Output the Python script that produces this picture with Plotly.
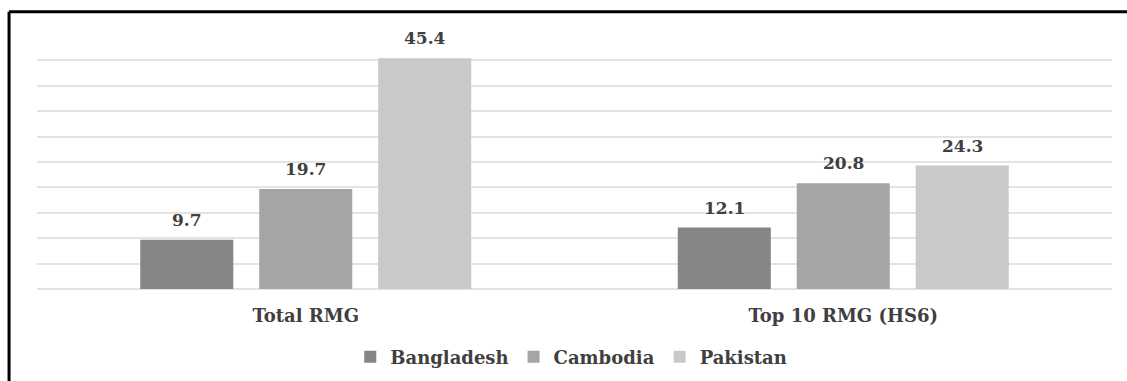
import plotly.graph_objects as go

categories = ["Total RMG", "Top 10 RMG (HS6)"]
bangladesh = [9.7, 12.1]
cambodia = [19.7, 20.8]
pakistan = [45.4, 24.3]

series = [
    ("Bangladesh", bangladesh, "#858585"),
    ("Cambodia", cambodia, "#a5a5a5"),
    ("Pakistan", pakistan, "#c9c9c9"),
]

FONT = "DejaVu Serif"
TEXT_COLOR = "#404040"

fig = go.Figure()
for name, values, color in series:
    fig.add_trace(go.Bar(
        name=name,
        x=categories,
        y=values,
        marker=dict(color=color, line=dict(width=0)),
        offsetgroup=name,
    ))

# value labels above each bar, placed with the same group offsets as the bars
n = len(series)
slot = (1 - 0.336) / n
for i, (name, values, color) in enumerate(series):
    offset = (i - (n - 1) / 2) * slot
    for j, v in enumerate(values):
        fig.add_annotation(
            x=j + offset, y=v, xref="x", yref="y",
            text=f"<b>{v:.1f}</b>", showarrow=False,
            yanchor="bottom", yshift=8,
            font=dict(family=FONT, size=17, color=TEXT_COLOR),
        )

# frame around the chart (left and top edges visible)
fx, fy = -0.026, 1.092
fig.add_shape(type="line", xref="paper", yref="paper", x0=fx, x1=fx, y0=fy, y1=-0.6,
              line=dict(color="#000000", width=3))
fig.add_shape(type="line", xref="paper", yref="paper", x0=fx, x1=1.1, y0=fy, y1=fy,
              line=dict(color="#000000", width=3))

fig.update_layout(
    width=1127,
    height=381,
    margin=dict(l=37, r=15, t=35, b=92, autoexpand=False),
    paper_bgcolor="white",
    plot_bgcolor="white",
    barmode="group",
    bargap=0.336,
    bargroupgap=0.218,
    showlegend=True,
    legend=dict(
        orientation="h",
        x=0.497, xanchor="center",
        y=-0.268, yanchor="middle",
        font=dict(family=FONT, size=18, color=TEXT_COLOR, weight="bold"),
        itemwidth=30,
        traceorder="normal",
    ),
    xaxis=dict(
        type="category",
        automargin=False,
        showgrid=False,
        showline=False,
        ticks="",
        ticklabelstandoff=14,
        tickfont=dict(family=FONT, size=18, color=TEXT_COLOR, weight="bold"),
    ),
    yaxis=dict(
        range=[0, 50],
        dtick=5,
        automargin=False,
        showgrid=True,
        gridcolor="#e3e3e3",
        gridwidth=1.5,
        showticklabels=False,
        zeroline=True,
        zerolinecolor="#e3e3e3",
        zerolinewidth=1.5,
        showline=False,
    ),
)

fig.write_html("out.html")
